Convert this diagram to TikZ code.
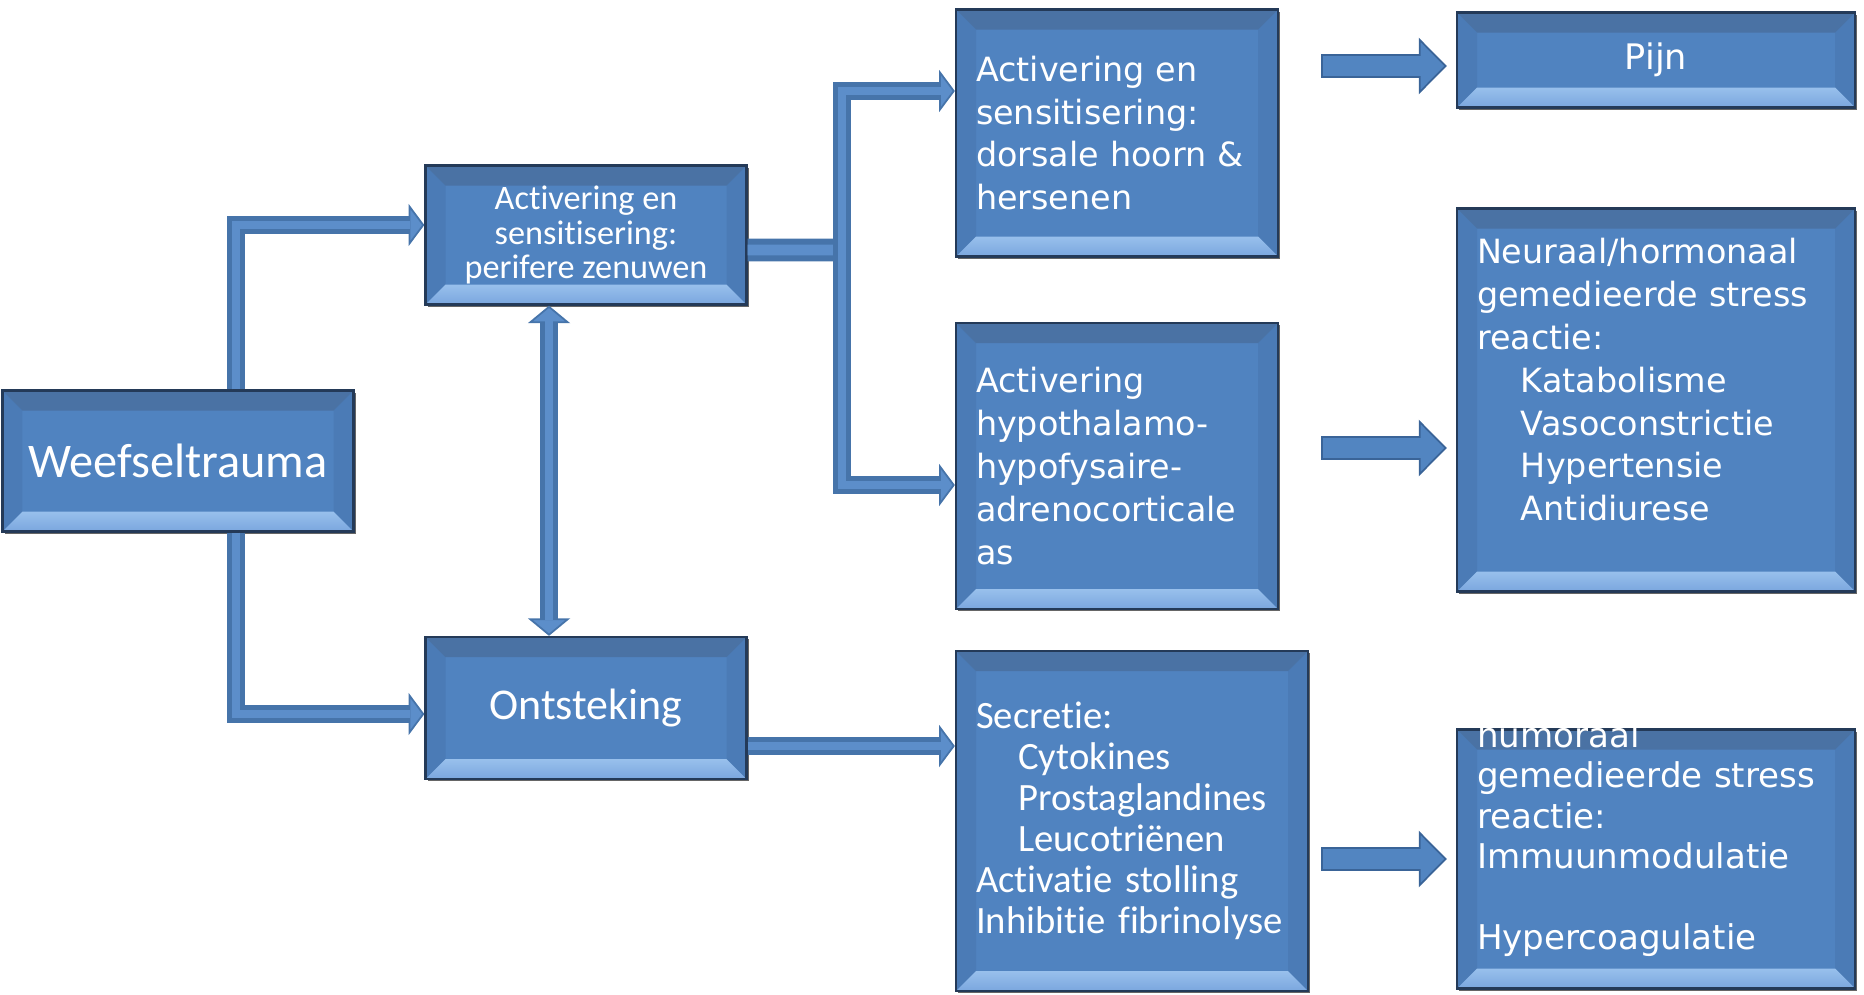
\documentclass[tikz,border=0pt]{standalone}
\usepackage{fontspec}
\usepackage{xcolor}
\usepackage{tikz}
\usetikzlibrary{positioning,arrows.meta,shadows}
\newfontfamily\widefont{DejaVu Sans}
\newfontfamily\narrowfont[Ligatures=NoCommon]{Carlito}
\definecolor{boxblue}{RGB}{80,131,192}
\definecolor{boxline}{RGB}{36,58,88}
\definecolor{bevtop}{RGB}{74,114,164}
\definecolor{bevside}{RGB}{75,123,182}
\definecolor{bevlight}{RGB}{152,192,236}
\definecolor{bevdark}{RGB}{122,166,222}
\definecolor{pipeedge}{RGB}{70,116,170}
\definecolor{pipefill}{RGB}{92,142,202}
\definecolor{fatfill}{RGB}{82,133,193}
\definecolor{fatedge}{RGB}{58,100,152}

\begin{document}
\begin{tikzpicture}[
  box/.style={draw=boxline,line width=1.3pt,fill=boxblue,text=white,inner sep=0.4cm,
    drop shadow={shadow xshift=1.3pt,shadow yshift=-1.3pt,fill=black,opacity=0.6},
    path picture={
      \fill[bevside] (path picture bounding box.north west)--([shift={(0.4,-0.4)}]path picture bounding box.north west)
        --([shift={(0.4,0.4)}]path picture bounding box.south west)--(path picture bounding box.south west)--cycle;
      \fill[bevside] (path picture bounding box.north east)--([shift={(-0.4,-0.4)}]path picture bounding box.north east)
        --([shift={(-0.4,0.4)}]path picture bounding box.south east)--(path picture bounding box.south east)--cycle;
      \fill[bevtop] (path picture bounding box.north west)--(path picture bounding box.north east)
        --([shift={(-0.4,-0.4)}]path picture bounding box.north east)
        --([shift={(0.4,-0.4)}]path picture bounding box.north west)--cycle;
      \shade[top color=bevlight,bottom color=bevdark] (path picture bounding box.south west)--(path picture bounding box.south east)
        --([shift={(-0.4,0.4)}]path picture bounding box.south east)
        --([shift={(0.4,0.4)}]path picture bounding box.south west)--cycle;
    }},
  nbox/.style={box,align=center,font=\narrowfont\fontsize{#1}{#1}\selectfont},
  wbox/.style={box,align=left,font=\widefont\fontsize{19}{24.4}\selectfont},
  pipe/.style={draw=pipeedge,line width=10pt,line join=miter,
    -{Triangle[width=24pt,length=9pt,fill=pipefill,line width=1pt]},
    postaction={draw=pipefill,line width=4pt,-,shorten >=8pt}},
  pipetwo/.style={draw=pipeedge,line width=10pt,
    {Triangle[width=24pt,length=10pt,fill=pipefill,line width=1pt]}-{Triangle[width=24pt,length=10pt,fill=pipefill,line width=1pt]},
    postaction={draw=pipefill,line width=4pt,-,shorten >=9pt,shorten <=9pt}},
  pipeline/.style={draw=pipeedge,line width=13pt,postaction={draw=pipefill,line width=6pt}},
  fat/.style={draw=fatedge,line width=14pt,
    -{Triangle[width=32pt,length=16pt,fill=fatfill,line width=1pt]},
    postaction={draw=fatfill,line width=11.6pt,-,shorten >=14pt,shorten <=0.8pt}}
]
\useasboundingbox (0,0) rectangle (37.28,-19.88);

% left column
\node[nbox=27.5,minimum width=7.02cm,minimum height=2.82cm] (wt) at (3.56,-9.22) {Weefseltrauma};
\node[nbox=19.5,minimum width=6.42cm,minimum height=2.78cm] (pz) at (11.72,-4.70) {Activering en\\sensitisering:\\perifere zenuwen};
\node[nbox=25,minimum width=6.42cm,minimum height=2.84cm] (ont) at (11.72,-14.16) {Ontsteking};

% middle column
\node[wbox,text width=5.64cm,minimum height=4.94cm] (dh) at (22.34,-2.66) {Activering en\\sensitisering:\\dorsale hoorn \&\\hersenen};
\node[wbox,text width=5.64cm,minimum height=5.72cm] (hha) at (22.34,-9.32) {Activering\\hypothalamo-\\hypofysaire-\\adrenocorticale\\as};
\node[box,align=left,font=\narrowfont\fontsize{22}{23.3}\selectfont,text width=6.24cm,minimum height=6.80cm] (sec) at (22.64,-16.42)
  {Secretie:\\\hspace*{24pt}Cytokines\\\hspace*{24pt}Prostaglandines\\\hspace*{24pt}Leucotriënen\\Activatie stolling\\Inhibitie fibrinolyse};

% right column
\node[box,font=\widefont\fontsize{20}{24.4}\selectfont,minimum width=7.96cm,minimum height=1.90cm] (pijn) at (33.12,-1.20) {Pijn};
\node[wbox,text width=7.16cm,inner ysep=0pt,text height=1.1cm,text depth=6.56cm] (nh) at (33.12,-8.00)
  {Neuraal/hormonaal\\gemedieerde stress\\reactie:\\\hspace*{25pt}Katabolisme\\\hspace*{25pt}Vasoconstrictie\\\hspace*{25pt}Hypertensie\\\hspace*{25pt}Antidiurese};
\node[box,align=left,font=\widefont\fontsize{19.4}{23}\selectfont,text width=7.16cm,inner ysep=0pt,text height=0.36cm,text depth=4.82cm] (hum) at (33.12,-17.18)
  {humoraal\\gemedieerde stress\\reactie:\\Immuunmodulatie\\\strut\\Hypercoagulatie};

% connectors
\coordinate (br) at (16.84,-5.0);
\draw[pipe] ([xshift=1.16cm]wt.north) |- ([yshift=0.2cm]pz.west);
\draw[pipe] ([xshift=1.16cm]wt.south) |- ([yshift=-0.12cm]ont.west);
\draw[pipetwo] ([xshift=-0.74cm]pz.south) -- ([xshift=-0.74cm]ont.north);
\draw[pipeline] ([yshift=-0.3cm]pz.east) -- (br);
\draw[pipe] (br) |- ([yshift=0.84cm]dh.west);
\draw[pipe] (br) |- ([yshift=-0.38cm]hha.west);
\draw[pipe] ([yshift=-0.76cm]ont.east) -- ([yshift=-0.76cm]ont.east-|sec.west);

\draw[fat] ([xshift=0.84cm,yshift=-0.12cm]dh.east|-pijn.west) -- ([xshift=-0.18cm,yshift=-0.12cm]pijn.west);
\draw[fat] ([xshift=0.84cm,yshift=0.36cm]hha.east) -- ([xshift=-0.18cm,yshift=0.36cm]hha.east-|nh.west);
\draw[fat] ([xshift=0.24cm]sec.east|-hum.west) -- ([xshift=-0.18cm]hum.west);
\end{tikzpicture}
\end{document}
